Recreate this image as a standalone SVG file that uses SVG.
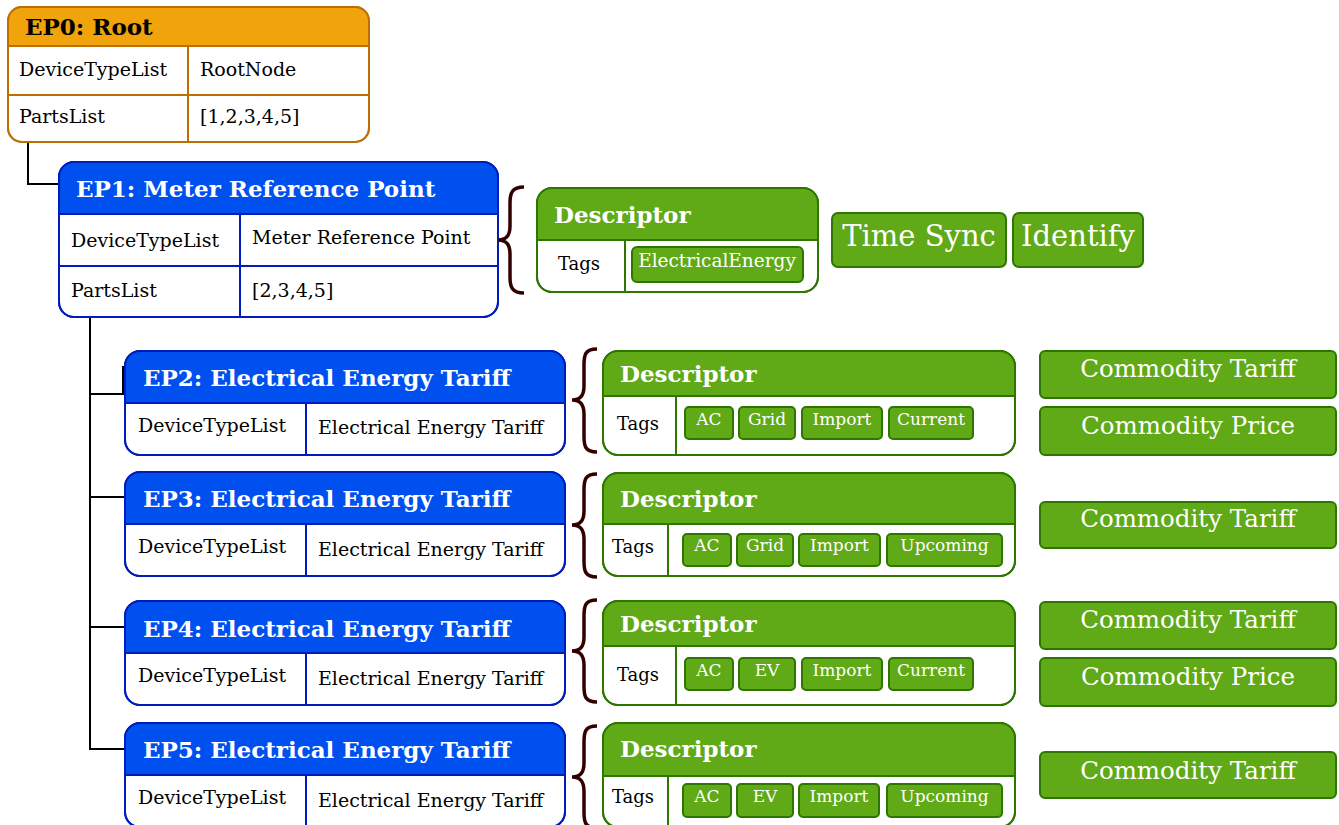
<svg xmlns="http://www.w3.org/2000/svg" width="1339" height="825" viewBox="0 0 1339 825">
<style>
text{font-family:"DejaVu Serif","Liberation Serif",serif}
.ttl{font-weight:bold;font-size:23px;fill:#fff}
.ttlk{font-weight:bold;font-size:23px;fill:#000}
.cell{font-size:19px;fill:#000}
.tags{font-size:18px;fill:#000}
.tagt{font-size:17px;fill:#fff;text-anchor:middle}
.big{font-size:29px;fill:#fff;text-anchor:middle}
.cl{font-size:24.5px;fill:#fff;text-anchor:middle}
.ob{fill:#fff;stroke:#BD7000;stroke-width:2}
.oh{fill:#F0A30A;stroke:none}
.ol{stroke:#BD7000;stroke-width:2;fill:none}
.bb{fill:#fff;stroke:#001DBC;stroke-width:2}
.bh{fill:#0050EF;stroke:none}
.bl{stroke:#001DBC;stroke-width:2;fill:none}
.gb{fill:#fff;stroke:#2D7600;stroke-width:2}
.gh{fill:#60A917;stroke:none}
.gl{stroke:#2D7600;stroke-width:2;fill:none}
.gf{fill:#60A917;stroke:#2D7600;stroke-width:2}
.brace{fill:none;stroke:#330000;stroke-width:3.5}
.conn{fill:none;stroke:#000;stroke-width:2}
</style>

<g id="connectors">
<path class="conn" d="M28,142 V184 H59"/>
<path class="conn" d="M90,317 V749 H125"/>
<path class="conn" d="M90,394 H123 V366"/>
<path class="conn" d="M90,497 H125"/>
<path class="conn" d="M90,627 H125"/>
</g>

<g id="ep0">
<rect class="ob" x="8" y="7" width="361" height="135" rx="14"/>
<path class="oh" d="M8,46 V21 A14,14 0 0 1 22,7 H355 A14,14 0 0 1 369,21 V46 Z"/>
<rect class="ol" x="8" y="7" width="361" height="135" rx="14"/>
<path class="ol" d="M8,46 H369 M8,95 H369 M188,46 V142"/>
<text class="ttlk" x="25" y="35">EP0: Root</text>
<text class="cell" x="19" y="76">DeviceTypeList</text>
<text class="cell" x="200" y="76">RootNode</text>
<text class="cell" x="19" y="123">PartsList</text>
<text class="cell" x="200" y="123">[1,2,3,4,5]</text>
</g>

<g id="ep1">
<rect class="bb" x="59" y="162" width="439" height="155" rx="15"/>
<path class="bh" d="M59,214 V177 A15,15 0 0 1 74,162 H483 A15,15 0 0 1 498,177 V214 Z"/>
<rect class="bl" x="59" y="162" width="439" height="155" rx="15"/>
<path class="bl" d="M59,214 H498 M59,266 H498 M240,214 V317"/>
<text class="ttl" x="76" y="197">EP1: Meter Reference Point</text>
<text class="cell" x="71" y="247">DeviceTypeList</text>
<text class="cell" x="252" y="244">Meter Reference Point</text>
<text class="cell" x="71" y="297">PartsList</text>
<text class="cell" x="252" y="297">[2,3,4,5]</text>
</g>

<g id="ep1-descriptor">
<path class="brace" d="M524,187 C512,187 510,193 510,203 L510,226 C510,236 506,240 498,240 C506,240 510,244 510,254 L510,277 C510,287 512,293 524,293"/>
<rect class="gb" x="537" y="188" width="281" height="104" rx="15"/>
<path class="gh" d="M537,240 V203 A15,15 0 0 1 552,188 H803 A15,15 0 0 1 818,203 V240 Z"/>
<rect class="gl" x="537" y="188" width="281" height="104" rx="15"/>
<path class="gl" d="M537,240 H818 M625,240 V292"/>
<text class="ttl" x="554" y="223">Descriptor</text>
<text class="tags" x="558" y="270">Tags</text>
<rect class="gf" x="632" y="247" width="171" height="35" rx="5"/>
<text class="tagt" x="717" y="267" style="font-size:18.5px">ElectricalEnergy</text>
</g>

<g id="ep1-timesync">
<rect class="gf" x="832" y="213" width="174" height="54" rx="6"/>
<text class="big" x="919" y="246">Time Sync</text>
</g>
<g id="ep1-identify">
<rect class="gf" x="1013" y="213" width="130" height="54" rx="6"/>
<text class="big" x="1078" y="246">Identify</text>
</g>

<g id="ep2">
<rect class="bb" x="125" y="351" width="440" height="104" rx="15"/>
<path class="bh" d="M125,403 V366 A15,15 0 0 1 140,351 H550 A15,15 0 0 1 565,366 V403 Z"/>
<rect class="bl" x="125" y="351" width="440" height="104" rx="15"/>
<path class="bl" d="M125,403 H565 M306,403 V455"/>
<text class="ttl" x="143" y="386">EP2: Electrical Energy Tariff</text>
<text class="cell" x="138" y="432">DeviceTypeList</text>
<text class="cell" x="318" y="434">Electrical Energy Tariff</text>
</g>

<g id="ep2-descriptor">
<path class="brace" d="M597,349 C585,349 584,355 584,365 L584,386 C584,396 580,400 572,400 C580,400 584,404 584,414 L584,436 C584,446 585,452 597,452"/>
<rect class="gb" x="603" y="351" width="412" height="104" rx="15"/>
<path class="gh" d="M603,396 V366 A15,15 0 0 1 618,351 H1000 A15,15 0 0 1 1015,366 V396 Z"/>
<rect class="gl" x="603" y="351" width="412" height="104" rx="15"/>
<path class="gl" d="M603,396 H1015 M676,396 V455"/>
<text class="ttl" x="620" y="382">Descriptor</text>
<text class="tags" x="617" y="430">Tags</text>
<rect class="gf" x="685" y="407" width="48" height="32" rx="4"/>
<text class="tagt" x="709" y="425">AC</text>
<rect class="gf" x="739" y="407" width="56" height="32" rx="4"/>
<text class="tagt" x="767" y="425">Grid</text>
<rect class="gf" x="802" y="407" width="80" height="32" rx="4"/>
<text class="tagt" x="842" y="425">Import</text>
<rect class="gf" x="889" y="407" width="84" height="32" rx="4"/>
<text class="tagt" x="931" y="425">Current</text>
</g>

<g id="ep2-tariff">
<rect class="gf" x="1040" y="351" width="296" height="47" rx="5"/>
<text class="cl" x="1188" y="377">Commodity Tariff</text>
</g>
<g id="ep2-price">
<rect class="gf" x="1040" y="407" width="296" height="48" rx="5"/>
<text class="cl" x="1188" y="434">Commodity Price</text>
</g>

<g id="ep3">
<rect class="bb" x="125" y="472" width="440" height="104" rx="15"/>
<path class="bh" d="M125,524 V487 A15,15 0 0 1 140,472 H550 A15,15 0 0 1 565,487 V524 Z"/>
<rect class="bl" x="125" y="472" width="440" height="104" rx="15"/>
<path class="bl" d="M125,524 H565 M306,524 V576"/>
<text class="ttl" x="143" y="507">EP3: Electrical Energy Tariff</text>
<text class="cell" x="138" y="553">DeviceTypeList</text>
<text class="cell" x="318" y="556">Electrical Energy Tariff</text>
</g>

<g id="ep3-descriptor">
<path class="brace" d="M597,474 C585,474 584,480 584,490 L584,511 C584,521 580,525 572,525 C580,525 584,529 584,539 L584,561 C584,571 585,577 597,577"/>
<rect class="gb" x="603" y="473" width="412" height="103" rx="15"/>
<path class="gh" d="M603,524 V488 A15,15 0 0 1 618,473 H1000 A15,15 0 0 1 1015,488 V524 Z"/>
<rect class="gl" x="603" y="473" width="412" height="103" rx="15"/>
<path class="gl" d="M603,524 H1015 M668,524 V576"/>
<text class="ttl" x="620" y="507">Descriptor</text>
<text class="tags" x="612" y="553">Tags</text>
<rect class="gf" x="683" y="534" width="48" height="32" rx="4"/>
<text class="tagt" x="707" y="551">AC</text>
<rect class="gf" x="737" y="534" width="56" height="32" rx="4"/>
<text class="tagt" x="765" y="551">Grid</text>
<rect class="gf" x="799" y="534" width="81" height="32" rx="4"/>
<text class="tagt" x="839.5" y="551">Import</text>
<rect class="gf" x="887" y="534" width="115" height="32" rx="4"/>
<text class="tagt" x="944.5" y="551">Upcoming</text>
</g>

<g id="ep3-tariff">
<rect class="gf" x="1040" y="502" width="296" height="46" rx="5"/>
<text class="cl" x="1188" y="527">Commodity Tariff</text>
</g>

<g id="ep4">
<rect class="bb" x="125" y="601" width="440" height="104" rx="15"/>
<path class="bh" d="M125,653 V616 A15,15 0 0 1 140,601 H550 A15,15 0 0 1 565,616 V653 Z"/>
<rect class="bl" x="125" y="601" width="440" height="104" rx="15"/>
<path class="bl" d="M125,653 H565 M306,653 V705"/>
<text class="ttl" x="143" y="637">EP4: Electrical Energy Tariff</text>
<text class="cell" x="138" y="682">DeviceTypeList</text>
<text class="cell" x="318" y="685">Electrical Energy Tariff</text>
</g>

<g id="ep4-descriptor">
<path class="brace" d="M597,600 C585,600 584,606 584,616 L584,637 C584,647 580,651 572,651 C580,651 584,655 584,665 L584,686 C584,696 585,702 597,702"/>
<rect class="gb" x="603" y="601" width="412" height="104" rx="15"/>
<path class="gh" d="M603,646 V616 A15,15 0 0 1 618,601 H1000 A15,15 0 0 1 1015,616 V646 Z"/>
<rect class="gl" x="603" y="601" width="412" height="104" rx="15"/>
<path class="gl" d="M603,646 H1015 M676,646 V705"/>
<text class="ttl" x="620" y="632">Descriptor</text>
<text class="tags" x="617" y="681">Tags</text>
<rect class="gf" x="685" y="658" width="48" height="32" rx="4"/>
<text class="tagt" x="709" y="676">AC</text>
<rect class="gf" x="739" y="658" width="56" height="32" rx="4"/>
<text class="tagt" x="767" y="676">EV</text>
<rect class="gf" x="802" y="658" width="80" height="32" rx="4"/>
<text class="tagt" x="842" y="676">Import</text>
<rect class="gf" x="889" y="658" width="84" height="32" rx="4"/>
<text class="tagt" x="931" y="676">Current</text>
</g>

<g id="ep4-tariff">
<rect class="gf" x="1040" y="602" width="296" height="47" rx="5"/>
<text class="cl" x="1188" y="628">Commodity Tariff</text>
</g>
<g id="ep4-price">
<rect class="gf" x="1040" y="658" width="296" height="48" rx="5"/>
<text class="cl" x="1188" y="685">Commodity Price</text>
</g>

<g id="ep5">
<rect class="bb" x="125" y="723" width="440" height="104" rx="15"/>
<path class="bh" d="M125,775 V738 A15,15 0 0 1 140,723 H550 A15,15 0 0 1 565,738 V775 Z"/>
<rect class="bl" x="125" y="723" width="440" height="104" rx="15"/>
<path class="bl" d="M125,775 H565 M306,775 V827"/>
<text class="ttl" x="143" y="758">EP5: Electrical Energy Tariff</text>
<text class="cell" x="138" y="804">DeviceTypeList</text>
<text class="cell" x="318" y="807">Electrical Energy Tariff</text>
</g>

<g id="ep5-descriptor">
<path class="brace" d="M597,726 C585,726 584,732 584,742 L584,763 C584,773 580,777 572,777 C580,777 584,781 584,791 L584,812 C584,822 585,828 597,828"/>
<rect class="gb" x="603" y="723" width="412" height="104" rx="15"/>
<path class="gh" d="M603,776 V738 A15,15 0 0 1 618,723 H1000 A15,15 0 0 1 1015,738 V776 Z"/>
<rect class="gl" x="603" y="723" width="412" height="104" rx="15"/>
<path class="gl" d="M603,776 H1015 M668,776 V827"/>
<text class="ttl" x="620" y="757">Descriptor</text>
<text class="tags" x="612" y="803">Tags</text>
<rect class="gf" x="683" y="784" width="48" height="33" rx="4"/>
<text class="tagt" x="707" y="802">AC</text>
<rect class="gf" x="737" y="784" width="56" height="33" rx="4"/>
<text class="tagt" x="765" y="802">EV</text>
<rect class="gf" x="799" y="784" width="80" height="33" rx="4"/>
<text class="tagt" x="839" y="802">Import</text>
<rect class="gf" x="887" y="784" width="115" height="33" rx="4"/>
<text class="tagt" x="944.5" y="802">Upcoming</text>
</g>

<g id="ep5-tariff">
<rect class="gf" x="1040" y="752" width="296" height="46" rx="5"/>
<text class="cl" x="1188" y="779">Commodity Tariff</text>
</g>
</svg>
